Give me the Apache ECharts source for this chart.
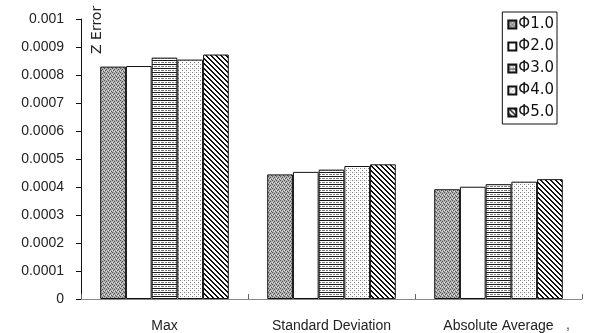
<!DOCTYPE html>
<html><head><meta charset="utf-8">
<script src="https://cdn.jsdelivr.net/npm/echarts@6/dist/echarts.min.js"></script>
<style>html,body{margin:0;padding:0;background:#fff}#c{width:592px;height:333px}</style>
</head><body><div id="c"></div>
<script>
var categories = ['Max', 'Standard Deviation', 'Absolute Average'];
var seriesNames = ['\u03A61.0', '\u03A62.0', '\u03A63.0', '\u03A64.0', '\u03A65.0'];
var phi10 = [0.000830, 0.000445, 0.000392];
var phi20 = [0.000832, 0.000454, 0.000401];
var phi30 = [0.000862, 0.000462, 0.000410];
var phi40 = [0.000855, 0.000475, 0.000419];
var phi50 = [0.000873, 0.000481, 0.000428];
var yTicks = [0, 0.0001, 0.0002, 0.0003, 0.0004, 0.0005, 0.0006, 0.0007, 0.0008, 0.0009, 0.001];
var yTitle = 'Z Error';
var strayMark = ',';

function mk(w, h, draw) {
  var c = document.createElement('canvas'); c.width = w; c.height = h;
  var g = c.getContext('2d'); g.fillStyle = '#fff'; g.fillRect(0, 0, w, h); draw(g); return c;
}
var patGray = mk(4, 4, function (g) {
  g.fillStyle = '#b0b0b0'; g.fillRect(0, 0, 4, 4);
  g.fillStyle = '#555';
  g.fillRect(0, 0, 1, 1); g.fillRect(2, 1, 1, 1); g.fillRect(1, 2, 1, 1); g.fillRect(3, 3, 1, 1);
  g.fillStyle = '#e4e4e4'; g.fillRect(2, 3, 1, 1); g.fillRect(0, 2, 1, 1);
});
var patWhite = '#ffffff';
var patHoriz = mk(7, 4, function (g) {
  g.fillStyle = '#1a1a1a'; g.fillRect(0, 0, 7, 1);
  g.fillStyle = '#7a7a7a'; g.fillRect(0, 2, 3, 1); g.fillRect(4, 2, 2, 1);
});
var patDots = mk(4, 4, function (g) {
  g.fillStyle = '#777'; g.fillRect(0, 0, 1, 1); g.fillRect(2, 2, 1, 1);
  g.fillStyle = '#d6d6d6'; g.fillRect(2, 0, 1, 1);
});
var patDiag = mk(5, 5, function (g) {
  g.fillStyle = '#111';
  for (var i = 0; i < 5; i++) { g.fillRect(i, i, 1, 1); g.fillRect((i + 1) % 5, i, 1, 1); }
});
var fills = [{image: patGray, repeat: 'repeat'}, patWhite, {image: patHoriz, repeat: 'repeat'}, {image: patDots, repeat: 'repeat'}, {image: patDiag, repeat: 'repeat'}];
var values = [phi10, phi20, phi30, phi40, phi50];

var chart = echarts.init(document.getElementById('c'), null, {renderer: 'canvas'});
var font = 'Liberation Sans, Arial, sans-serif';
chart.setOption({
  animation: false,
  backgroundColor: '#fff',
  grid: {left: 81, right: 10, top: 19, bottom: 34},
  legend: {
    orient: 'vertical', right: 35, top: 12,
    data: seriesNames,
    itemWidth: 8, itemHeight: 8, itemGap: 7,
    borderColor: '#111', borderWidth: 1, padding: [5, 3, 4, 5],
    textStyle: {fontFamily: 'DejaVu Sans, sans-serif', fontSize: 15, color: '#111', padding: [0, 0, 0, -3]},
    icon: 'rect'
  },
  graphic: [{
    type: 'text', x: 90, y: 54, rotation: Math.PI / 2,
    style: {text: yTitle, fontFamily: 'DejaVu Sans, sans-serif', fontSize: 14, fill: '#222'}
  }, {
    type: 'text', x: 566, y: 318,
    style: {text: strayMark, fontFamily: font, fontSize: 14, fill: '#444'}
  }],
  xAxis: {
    type: 'category', data: categories,
    axisLine: {lineStyle: {color: '#888', width: 1}},
    axisTick: {show: true, inside: true, length: 5, lineStyle: {color: '#666'}},
    axisLabel: {fontFamily: font, fontSize: 14, color: '#222', margin: 20}
  },
  yAxis: {
    type: 'value', min: 0, max: 0.001, interval: 0.0001,
    axisLine: {show: true, lineStyle: {color: '#111', width: 1}},
    axisTick: {show: true, length: 5, lineStyle: {color: '#111'}},
    splitLine: {show: false},
    axisLabel: {fontFamily: font, fontSize: 14, color: '#222', margin: 17,
      formatter: function (v) { var s = yTicks.filter(function (t) { return Math.abs(t - v) < 1e-9; })[0]; return s === 0 ? '0' : String(+s.toFixed(4)); }}
  },
  series: seriesNames.map(function (n, i) {
    return {
      name: n, type: 'bar', data: values[i], barGap: '0%', barCategoryGap: '23%',
      itemStyle: {color: fills[i], borderColor: '#111', borderWidth: 1}
    };
  })
});
</script></body></html>
